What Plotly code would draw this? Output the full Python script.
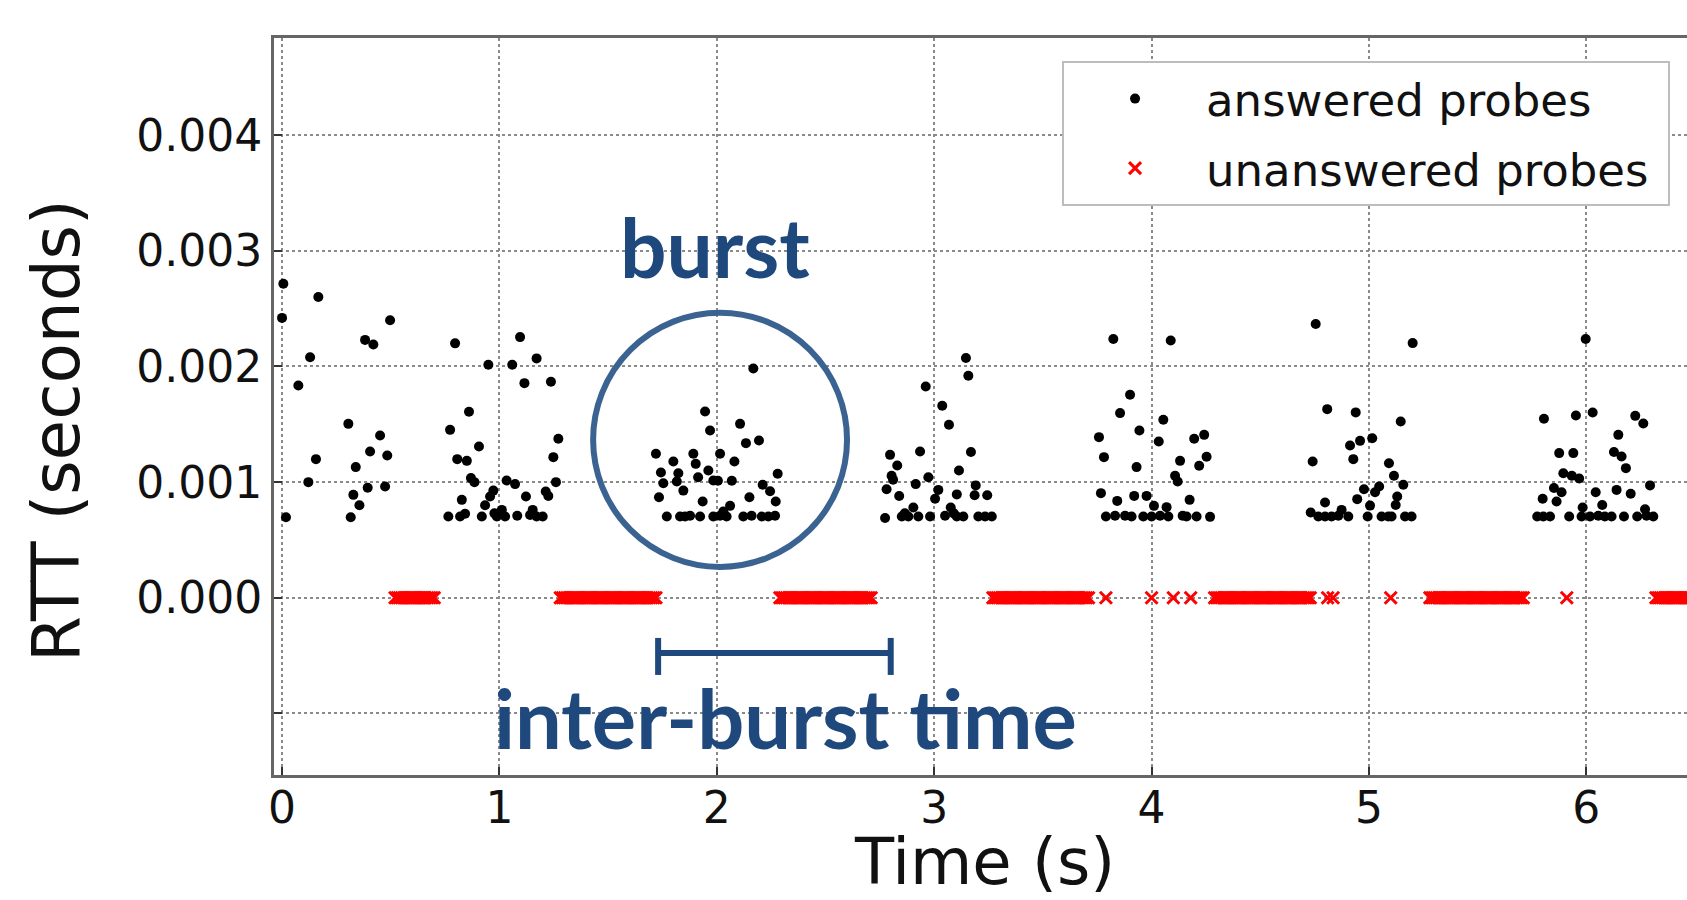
import plotly.graph_objects as go

# ---------------- data ----------------
# answered probes: time (s) and RTT (s), one pair of lists per burst
burst1_t = [0.006, 0.167, 0.0, 0.129, 0.075, 0.497, 0.382, 0.42, 0.305, 0.451, 0.405, 0.484,
            0.156, 0.339, 0.121, 0.394, 0.474, 0.328, 0.356, 0.018, 0.316]
burst1_rtt = [0.002715, 0.0026, 0.00242, 0.00208, 0.001836, 0.0024, 0.00223, 0.00219, 0.001504,
              0.001403, 0.001265, 0.00123, 0.001199, 0.00113, 0.001, 0.000951, 0.000962, 0.00089,
              0.0008, 0.000697, 0.000697]

burst2_t = [0.796, 0.949, 1.059, 1.095, 1.171, 1.115, 1.237, 0.86, 0.773, 0.906, 1.271, 1.248,
            0.806, 0.85, 0.869, 0.885, 1.033, 1.072, 1.26, 0.972, 0.957, 0.934, 0.827, 1.122,
            1.213, 1.225, 0.765, 0.819, 0.842, 0.919, 0.988, 1.011, 1.026, 1.082, 1.141, 1.153,
            1.171, 1.199, 0.977]
burst2_rtt = [0.0022, 0.002015, 0.002015, 0.002254, 0.00207, 0.001856, 0.001868, 0.001608,
              0.001452, 0.001308, 0.001375, 0.001216, 0.001199, 0.001184, 0.001035, 0.001,
              0.001014, 0.000983, 0.001, 0.000927, 0.000876, 0.0008, 0.000847, 0.000876,
              0.000919, 0.00088, 0.000703, 0.000703, 0.000726, 0.000703, 0.000703, 0.00076,
              0.000703, 0.00071, 0.000716, 0.00076, 0.000703, 0.000703, 0.00073]

burst3_t = [2.168, 1.946, 2.107, 1.969, 2.194, 2.134, 1.72, 1.892, 2.015, 1.8, 2.081, 1.903,
            1.743, 1.823, 1.961, 1.914, 2.28, 1.754, 1.816, 1.984, 2.005, 2.069, 2.211, 1.846,
            2.245, 1.734, 2.15, 2.271, 1.935, 2.061, 2.03, 1.77, 1.831, 1.854, 1.877, 1.923,
            1.984, 2.015, 2.045, 2.122, 2.16, 2.207, 2.237, 2.268]
burst3_rtt = [0.001983, 0.001611, 0.001504, 0.001447, 0.00136, 0.001337, 0.001245, 0.001245,
              0.001245, 0.001178, 0.001178, 0.001158, 0.001083, 0.001077, 0.0011, 0.001043,
              0.001072, 0.000991, 0.001006, 0.001014, 0.001012, 0.001012, 0.000977, 0.000927,
              0.000921, 0.00087, 0.00087, 0.000832, 0.000832, 0.000795, 0.000746, 0.000703,
              0.000703, 0.000703, 0.00071, 0.000703, 0.000703, 0.00071, 0.000703, 0.000703,
              0.00071, 0.000703, 0.000703, 0.00071]

burst4_t = [3.146, 3.157, 2.961, 3.037, 3.068, 2.797, 2.935, 3.169, 2.83, 2.804, 2.811, 2.973,
            3.114, 2.781, 2.915, 3.019, 3.191, 2.839, 3.004, 3.104, 3.186, 3.244, 2.904, 3.076,
            2.774, 2.851, 2.881, 2.927, 2.981, 3.05, 3.104, 3.134, 3.203, 3.234, 3.265, 2.865,
            3.09]
burst4_rtt = [0.002073, 0.00192, 0.001827, 0.00166, 0.001496, 0.001236, 0.001265, 0.00126,
              0.001144, 0.001055, 0.00102, 0.001043, 0.0011, 0.000939, 0.000983, 0.000933,
              0.000972, 0.00088, 0.000857, 0.000894, 0.000886, 0.000886, 0.000781, 0.000781,
              0.00069, 0.000703, 0.000703, 0.000703, 0.000703, 0.00071, 0.000703, 0.000703,
              0.000703, 0.000703, 0.000703, 0.00073, 0.00073]

burst5_t = [3.824, 4.088, 3.901, 3.855, 4.054, 3.944, 3.758, 4.033, 4.196, 4.242, 3.781, 4.131,
            4.253, 4.219, 3.931, 4.108, 4.12, 3.767, 3.842, 3.92, 3.977, 4.175, 4.011, 4.069,
            3.79, 3.832, 3.878, 3.908, 3.962, 4.0, 4.039, 4.077, 4.143, 4.161, 4.207, 4.269]
burst5_rtt = [0.002237, 0.002225, 0.001755, 0.001597, 0.001539, 0.001447, 0.001389, 0.001351,
              0.001375, 0.001409, 0.001216, 0.001184, 0.001219, 0.001141, 0.00113, 0.001055,
              0.001006, 0.000905, 0.000838, 0.000881, 0.000881, 0.000847, 0.000795, 0.000784,
              0.000703, 0.00071, 0.00071, 0.000703, 0.000703, 0.000703, 0.00071, 0.000703,
              0.00071, 0.000703, 0.000703, 0.0007]

burst6_t = [4.755, 5.201, 4.808, 4.939, 5.146, 5.015, 4.959, 4.913, 4.741, 4.928, 5.092, 5.115,
            5.158, 4.977, 5.047, 5.028, 5.13, 4.946, 4.798, 5.005, 5.123, 4.732, 4.874, 4.767,
            4.798, 4.828, 4.859, 4.905, 4.994, 5.058, 5.089, 5.104, 5.166, 5.196]
burst6_rtt = [0.002367, 0.002202, 0.001631, 0.001603, 0.001524, 0.00138, 0.001357, 0.001317,
              0.001178, 0.001199, 0.001164, 0.001055, 0.000977, 0.000939, 0.000962, 0.000913,
              0.000876, 0.000853, 0.000824, 0.000797, 0.000803, 0.000737, 0.00076, 0.000703,
              0.000703, 0.000703, 0.00071, 0.000703, 0.000703, 0.000703, 0.000703, 0.000703,
              0.000703, 0.000703]

burst7_t = [5.997, 6.029, 5.952, 5.805, 6.225, 6.262, 6.147, 5.875, 5.94, 6.127, 6.162, 6.182,
            5.894, 5.933, 5.967, 5.851, 5.886, 5.799, 5.863, 6.043, 6.139, 6.204, 6.293, 6.073,
            5.983, 6.27, 5.774, 5.802, 5.833, 5.921, 5.978, 6.017, 6.055, 6.085, 6.116, 6.173,
            6.234, 6.277, 6.308]
burst7_rtt = [0.002237, 0.001602, 0.001576, 0.001548, 0.001573, 0.001507, 0.001409, 0.001251,
              0.001251, 0.00126, 0.001222, 0.001121, 0.001077, 0.001055, 0.001032, 0.000949,
              0.000913, 0.000856, 0.000832, 0.000913, 0.000933, 0.000899, 0.000972, 0.000803,
              0.000781, 0.000766, 0.000703, 0.000703, 0.000703, 0.000703, 0.000703, 0.000703,
              0.00071, 0.000703, 0.000703, 0.000703, 0.000703, 0.00071, 0.000703]

# unanswered probes: send times (s), one list per silent gap; their RTT is drawn at 0
gap1_t = [0.52, 0.53, 0.54, 0.55, 0.56, 0.57, 0.58, 0.59, 0.60, 0.61, 0.62, 0.63, 0.64, 0.65,
          0.66, 0.67, 0.68, 0.69, 0.70]
gap2_t = [1.28, 1.29, 1.30, 1.31, 1.32, 1.33, 1.34, 1.35, 1.36, 1.37, 1.38, 1.39, 1.40, 1.41,
          1.42, 1.43, 1.44, 1.45, 1.46, 1.47, 1.48, 1.49, 1.50, 1.51, 1.52, 1.53, 1.54, 1.55,
          1.56, 1.57, 1.58, 1.59, 1.60, 1.61, 1.62, 1.63, 1.64, 1.65, 1.66, 1.67, 1.68, 1.69,
          1.70, 1.71, 1.72]
gap3_t = [2.29, 2.30, 2.31, 2.32, 2.33, 2.34, 2.35, 2.36, 2.37, 2.38, 2.39, 2.40, 2.41, 2.42,
          2.43, 2.44, 2.45, 2.46, 2.47, 2.48, 2.49, 2.50, 2.51, 2.52, 2.53, 2.54, 2.55, 2.56,
          2.57, 2.58, 2.59, 2.60, 2.61, 2.62, 2.63, 2.64, 2.65, 2.66, 2.67, 2.68, 2.69, 2.70,
          2.71]
gap4_t = [3.27, 3.28, 3.29, 3.30, 3.31, 3.32, 3.33, 3.34, 3.35, 3.36, 3.37, 3.38, 3.39, 3.40,
          3.41, 3.42, 3.43, 3.44, 3.45, 3.46, 3.47, 3.48, 3.49, 3.50, 3.51, 3.52, 3.53, 3.54,
          3.55, 3.56, 3.57, 3.58, 3.59, 3.60, 3.61, 3.62, 3.63, 3.64, 3.65, 3.66, 3.67, 3.68,
          3.69, 3.70, 3.71, 3.79, 4.00, 4.10, 4.18]
gap5_t = [4.29, 4.30, 4.31, 4.32, 4.33, 4.34, 4.35, 4.36, 4.37, 4.38, 4.39, 4.40, 4.41, 4.42,
          4.43, 4.44, 4.45, 4.46, 4.47, 4.48, 4.49, 4.50, 4.51, 4.52, 4.53, 4.54, 4.55, 4.56,
          4.57, 4.58, 4.59, 4.60, 4.61, 4.62, 4.63, 4.64, 4.65, 4.66, 4.67, 4.68, 4.69, 4.70,
          4.71, 4.72, 4.73, 4.81, 4.835, 5.10]
gap6_t = [5.28, 5.29, 5.30, 5.31, 5.32, 5.33, 5.34, 5.35, 5.36, 5.37, 5.38, 5.39, 5.40, 5.41,
          5.42, 5.43, 5.44, 5.45, 5.46, 5.47, 5.48, 5.49, 5.50, 5.51, 5.52, 5.53, 5.54, 5.55,
          5.56, 5.57, 5.58, 5.59, 5.60, 5.61, 5.62, 5.63, 5.64, 5.65, 5.66, 5.67, 5.68, 5.69,
          5.70, 5.71, 5.91]
gap7_t = [6.32, 6.33, 6.34, 6.35, 6.36, 6.37, 6.38, 6.39, 6.40, 6.41, 6.42, 6.43, 6.44, 6.45,
          6.46, 6.47, 6.48, 6.49, 6.50]

x_ticks = [0, 1, 2, 3, 4, 5, 6]
y_ticks = [-0.001, 0.0, 0.001, 0.002, 0.003, 0.004]
y_ticktext = ["", "0.000", "0.001", "0.002", "0.003", "0.004"]

answered_t = burst1_t + burst2_t + burst3_t + burst4_t + burst5_t + burst6_t + burst7_t
answered_rtt = (burst1_rtt + burst2_rtt + burst3_rtt + burst4_rtt + burst5_rtt
                + burst6_rtt + burst7_rtt)
unanswered_t = gap1_t + gap2_t + gap3_t + gap4_t + gap5_t + gap6_t + gap7_t
unanswered_rtt = [0.0] * len(unanswered_t)

# ---------------- figure ----------------
TICK_FONT = dict(family="DejaVu Sans", size=44, color="#111111")
BLUE_TEXT = "#1f497d"
BLUE_CIRCLE = "#3b6392"
NBSP = "\u00a0"

fig = go.Figure()
fig.add_trace(go.Scatter(
    x=answered_t, y=answered_rtt, mode="markers", name="answered probes" + NBSP,
    legendgroup="a",
    marker=dict(symbol="circle", size=10, color="black", line=dict(width=0)),
))
fig.add_trace(go.Scatter(
    x=unanswered_t, y=unanswered_rtt, mode="markers", name="unanswered probes" + NBSP,
    legendgroup="b",
    marker=dict(symbol="x-thin", size=12, color="red", line=dict(width=3, color="red")),
))

# burst circle, inter-burst bracket
fig.add_shape(type="circle", xref="x", yref="y", x0=1.431, x1=2.599, y0=0.000267, y1=0.002465,
              line=dict(color=BLUE_CIRCLE, width=6))
fig.add_shape(type="line", xref="x", yref="y", x0=1.73, x1=2.80, y0=-0.000477, y1=-0.000477,
              line=dict(color=BLUE_TEXT, width=6))
fig.add_shape(type="line", xref="x", yref="y", x0=1.73, x1=1.73, y0=-0.000347, y1=-0.000667,
              line=dict(color=BLUE_TEXT, width=6))
fig.add_shape(type="line", xref="x", yref="y", x0=2.80, x1=2.80, y0=-0.000347, y1=-0.000667,
              line=dict(color=BLUE_TEXT, width=6))

fig.add_annotation(x=1.99, y=0.00304, xref="x", yref="y", text="<b>burst</b>", showarrow=False,
                   xanchor="center", yanchor="middle",
                   font=dict(family="Lato", size=82, color=BLUE_TEXT))
fig.add_annotation(x=2.316, y=-0.00103, xref="x", yref="y", text="<b>inter-burst time</b>",
                   showarrow=False, xanchor="center", yanchor="middle",
                   font=dict(family="Lato", size=83, color=BLUE_TEXT))

# axis titles
fig.add_annotation(x=-0.1543, y=0.468, xref="paper", yref="paper", text="RTT (seconds)",
                   textangle=-90, showarrow=False, xanchor="center", yanchor="middle",
                   font=dict(family="DejaVu Sans", size=66, color="#111111"))
fig.add_annotation(x=0.503, y=-0.1185, xref="paper", yref="paper", text="Time (s)",
                   showarrow=False, xanchor="center", yanchor="middle",
                   font=dict(family="DejaVu Sans", size=64, color="#111111"))

fig.update_layout(
    width=1687, height=900,
    margin=dict(l=274, r=0, t=38, b=125),
    paper_bgcolor="white", plot_bgcolor="white",
    showlegend=True,
    legend=dict(
        x=0.988, y=0.969, xanchor="right", yanchor="top",
        bgcolor="white", bordercolor="#bdbdbd", borderwidth=2,
        font=dict(family="DejaVu Sans", size=45, color="#111111"),
        itemwidth=132, traceorder="grouped", tracegroupgap=8,
    ),
)
fig.update_xaxes(
    range=[-0.037, 6.463], tickvals=x_ticks, ticktext=[str(v) for v in x_ticks],
    tickfont=TICK_FONT, ticks="inside", ticklen=8, tickwidth=1.5, tickcolor="#333333",
    ticklabelstandoff=-8,
    showline=True, linecolor="#666666", linewidth=3, mirror=True,
    showgrid=True, gridcolor="#8a8a8a", gridwidth=1.5, griddash="dot", zeroline=False,
)
fig.update_yaxes(
    range=[-0.001532, 0.00484], tickvals=y_ticks, ticktext=y_ticktext,
    tickfont=TICK_FONT, ticks="inside", ticklen=8, tickwidth=1.5, tickcolor="#333333",
    showline=True, linecolor="#666666", linewidth=3, mirror=False,
    showgrid=True, gridcolor="#8a8a8a", gridwidth=1.5, griddash="dot", zeroline=False,
)

fig.write_html(
    "out.html",
    config={"displayModeBar": False},
    post_script="document.body.style.margin='0';document.body.style.overflow='hidden';",
)
